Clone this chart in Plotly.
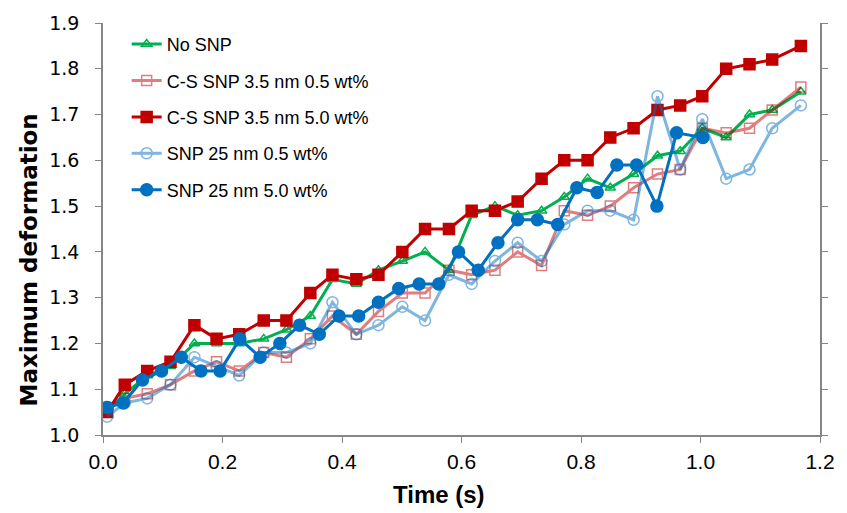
import plotly.graph_objects as go

# Sampling times (s)
time_common = [0.007, 0.0365, 0.074, 0.113, 0.153, 0.190, 0.228, 0.269, 0.307, 0.347,
               0.384, 0.424, 0.461, 0.501, 0.539, 0.579, 0.617, 0.656, 0.694, 0.734,
               0.772, 0.811, 0.849, 0.888, 0.928, 0.966, 1.003, 1.043, 1.082, 1.120, 1.168]
time_snp25_5 = [0.007, 0.034, 0.066, 0.098, 0.131, 0.164, 0.196, 0.229, 0.263, 0.296,
                0.329, 0.362, 0.395, 0.428, 0.461, 0.495, 0.529, 0.562, 0.595, 0.628,
                0.661, 0.694, 0.727, 0.761, 0.793, 0.827, 0.860, 0.893, 0.927, 0.960, 1.004]

# Maximum deformation per case
no_snp = [1.05, 1.09, 1.13, 1.15, 1.20, 1.20, 1.20, 1.21, 1.23, 1.26,
          1.34, 1.33, 1.36, 1.38, 1.40, 1.36, 1.48, 1.50, 1.48, 1.49,
          1.52, 1.56, 1.54, 1.57, 1.61, 1.62, 1.67, 1.65, 1.70, 1.71, 1.75]
cs_35_05 = [1.06, 1.08, 1.09, 1.11, 1.14, 1.16, 1.14, 1.18, 1.17, 1.21,
            1.26, 1.22, 1.27, 1.31, 1.31, 1.36, 1.35, 1.36, 1.40, 1.37,
            1.49, 1.48, 1.50, 1.54, 1.57, 1.58, 1.67, 1.66, 1.67, 1.71, 1.76]
cs_35_50 = [1.05, 1.11, 1.14, 1.16, 1.24, 1.21, 1.22, 1.25, 1.25, 1.31,
            1.35, 1.34, 1.35, 1.40, 1.45, 1.45, 1.49, 1.49, 1.51, 1.56,
            1.60, 1.60, 1.65, 1.67, 1.71, 1.72, 1.74, 1.80, 1.81, 1.82, 1.85]
snp25_05 = [1.04, 1.07, 1.08, 1.11, 1.17, 1.15, 1.13, 1.18, 1.18, 1.20,
            1.29, 1.22, 1.24, 1.28, 1.25, 1.35, 1.33, 1.38, 1.42, 1.38,
            1.46, 1.49, 1.49, 1.47, 1.74, 1.58, 1.69, 1.56, 1.58, 1.67, 1.72]
snp25_50 = [1.06, 1.07, 1.12, 1.14, 1.17, 1.14, 1.14, 1.21, 1.17, 1.20,
            1.24, 1.22, 1.26, 1.26, 1.29, 1.32, 1.33, 1.33, 1.40, 1.36,
            1.42, 1.47, 1.47, 1.46, 1.54, 1.53, 1.59, 1.59, 1.50, 1.66, 1.65]

x_ticks = [0.0, 0.2, 0.4, 0.6, 0.8, 1.0, 1.2]
y_ticks = [1.0, 1.1, 1.2, 1.3, 1.4, 1.5, 1.6, 1.7, 1.8, 1.9]

SANS = "Liberation Sans, Arial, sans-serif"
WIDE = "DejaVu Sans, Verdana, sans-serif"
AXIS_GRAY = "#868686"

series = [
    ("No SNP", time_common, no_snp, "#00B050", "triangle-up-open", 9, 1.0),
    ("C-S SNP 3.5 nm 0.5 wt%", time_common, cs_35_05, "#C00000", "square-open", 10, 0.5),
    ("C-S SNP 3.5 nm 5.0 wt%", time_common, cs_35_50, "#C00000", "square", 11, 1.0),
    ("SNP 25 nm 0.5 wt%", time_common, snp25_05, "#0070C0", "circle-open", 11, 0.5),
    ("SNP 25 nm 5.0 wt%", time_snp25_5, snp25_50, "#0070C0", "circle", 12, 1.0),
]

fig = go.Figure()
for i, (name, t, y, color, symbol, size, op) in enumerate(series):
    fig.add_trace(go.Scatter(
        x=t, y=y, name=name, mode="lines+markers",
        line=dict(color=color, width=3),
        marker=dict(symbol=symbol, size=size, color=color,
                    line=dict(color=color, width=1.5)),
        opacity=op, legendgroup=f"g{i}",
    ))

fig.update_layout(
    width=847, height=513,
    margin=dict(l=103, r=15, t=17, b=78),
    plot_bgcolor="white", paper_bgcolor="white",
    font=dict(family=SANS, size=17, color="#000000"),
    showlegend=True,
    legend=dict(x=0.033, y=0.993, xanchor="left", yanchor="top",
                bgcolor="rgba(0,0,0,0)", font=dict(family=SANS, size=18),
                tracegroupgap=10),
    xaxis=dict(range=[0, 1.2], tickvals=x_ticks, tickformat=".1f",
               showline=True, linecolor=AXIS_GRAY, linewidth=1.5,
               ticks="outside", ticklen=6, tickcolor=AXIS_GRAY,
               tickfont=dict(family=SANS, size=21),
               ticklabelstandoff=1,
               showgrid=False, zeroline=False),
    yaxis=dict(range=[1.0, 1.9], tickvals=y_ticks, tickformat=".1f",
               showline=True, linecolor=AXIS_GRAY, linewidth=1.5, mirror="ticks",
               ticks="outside", ticklen=6, tickcolor=AXIS_GRAY,
               tickfont=dict(family=WIDE, size=19),
               ticklabelstandoff=12,
               showgrid=False, zeroline=False),
    annotations=[
        dict(text="<b>Time (s)</b>", xref="paper", yref="paper",
             x=(445 - 103) / 729, y=-(496 - 435.5) / 418.5,
             xanchor="center", yanchor="middle", showarrow=False,
             font=dict(family=SANS, size=24)),
        dict(text="<b>Maximum deformation</b>", xref="paper", yref="paper",
             x=-(103 - 28) / 729, y=(435.5 - 258) / 418.5, textangle=-90,
             xanchor="center", yanchor="middle", showarrow=False,
             font=dict(family=WIDE, size=23)),
    ],
)

fig.write_html("out.html")
